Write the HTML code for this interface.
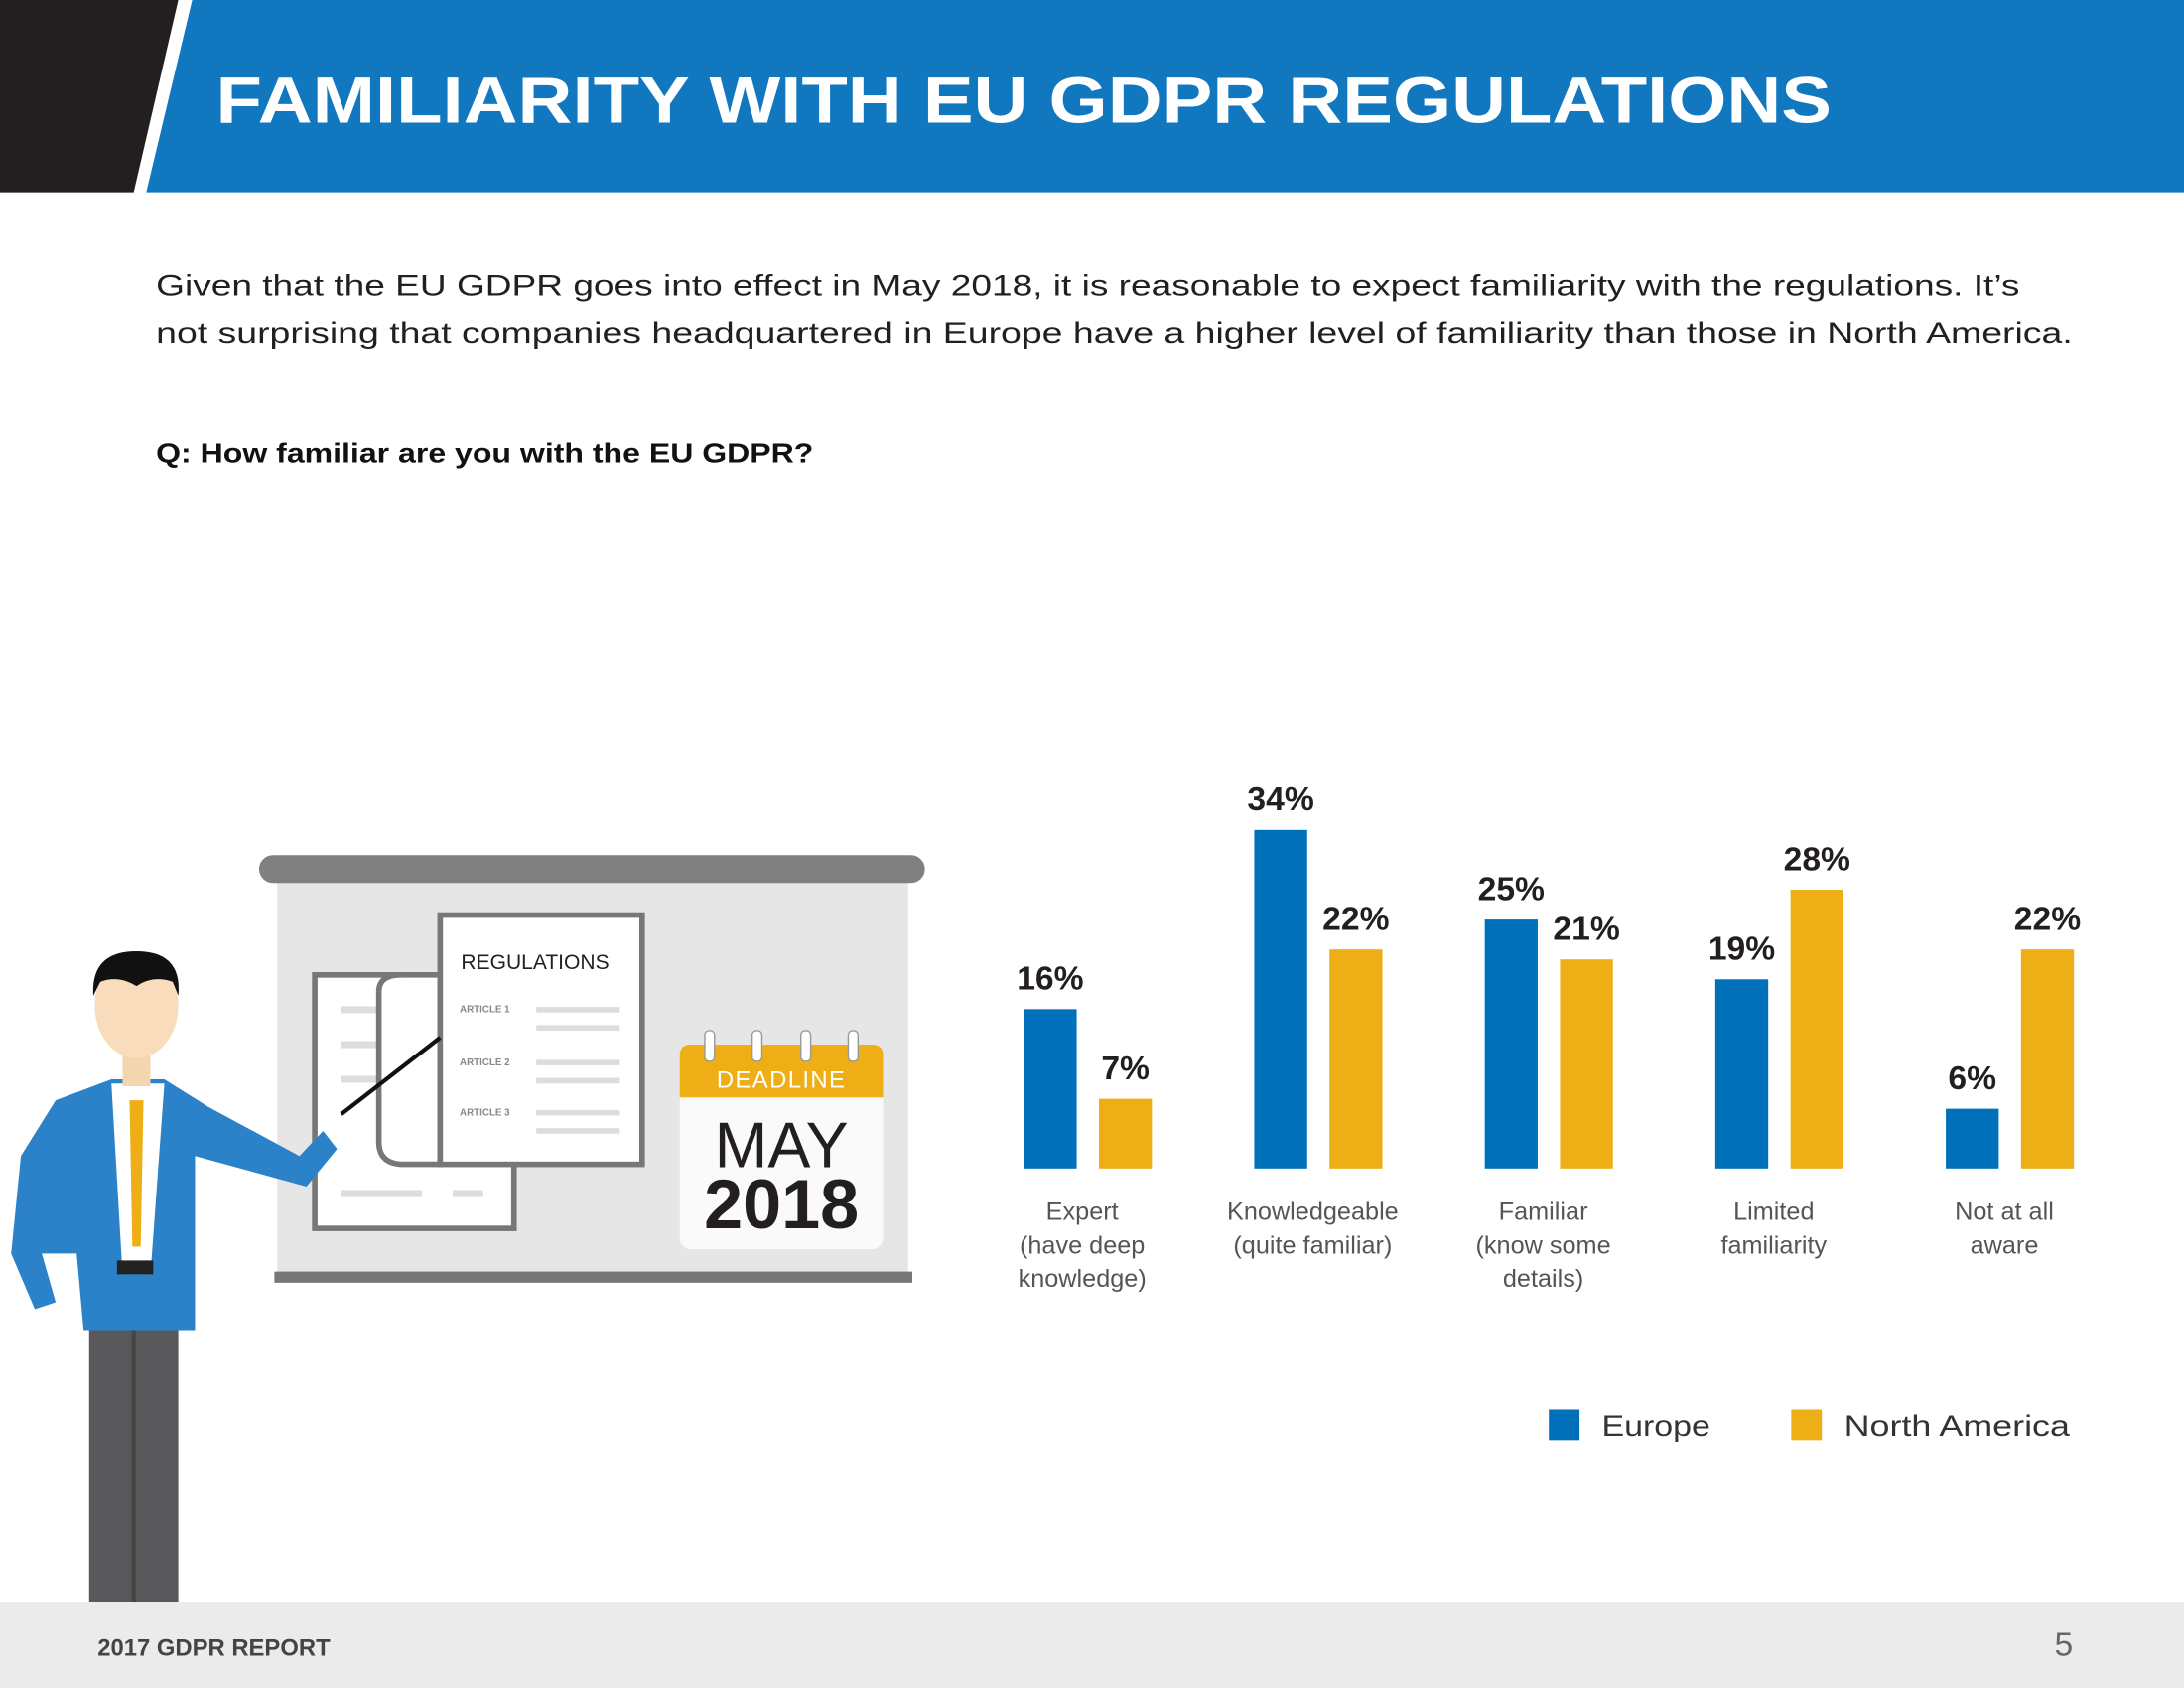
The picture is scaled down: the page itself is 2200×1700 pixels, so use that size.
<!DOCTYPE html>
<html><head><meta charset="utf-8"><style>
html,body{margin:0;padding:0;background:#fff;}
svg{display:block;font-family:"Liberation Sans",sans-serif;}
</style></head><body>
<svg id="page" width="2200" height="1700" viewBox="0 0 1568 1212" preserveAspectRatio="none" xmlns="http://www.w3.org/2000/svg">
<g>
<polygon points="0,0 128,0 96,138 0,138" fill="#231f20"/>
<polygon points="138,0 1568,0 1568,138 105,138" fill="#1177bf"/>
<text x="155" y="88" fill="#fff" font-size="47" font-weight="bold" textLength="1160" lengthAdjust="spacingAndGlyphs">FAMILIARITY WITH EU GDPR REGULATIONS</text>
</g>
<g fill="#231f20" font-size="21">
<text x="112" y="212" textLength="1338" lengthAdjust="spacingAndGlyphs">Given that the EU GDPR goes into effect in May 2018, it is reasonable to expect familiarity with the regulations. It’s</text>
<text x="112" y="246" textLength="1376" lengthAdjust="spacingAndGlyphs">not surprising that companies headquartered in Europe have a higher level of familiarity than those in North America.</text>
</g>
<text x="112" y="332" font-size="20" font-weight="bold" fill="#111" textLength="472" lengthAdjust="spacingAndGlyphs">Q: How familiar are you with the EU GDPR?</text>

<g>
<rect x="199" y="630" width="453" height="285" fill="#e6e6e6"/>
<rect x="186" y="614" width="478" height="20" rx="10" fill="#808080"/>
<rect x="197" y="913" width="458" height="8" fill="#777"/>
<rect x="226" y="700" width="143" height="182" fill="#fff" stroke="#777" stroke-width="4"/>
<g stroke="#ddd" stroke-width="5"><line x1="245" y1="725" x2="300" y2="725"/><line x1="245" y1="750" x2="300" y2="750"/><line x1="245" y1="775" x2="300" y2="775"/><line x1="245" y1="857" x2="303" y2="857"/><line x1="325" y1="857" x2="347" y2="857"/></g>
<path d="M272,712 Q272,700 288,700 L316,700 L316,836 L290,836 Q272,836 272,820 Z" fill="#fff" stroke="#777" stroke-width="4"/>
<rect x="316" y="657" width="145" height="179" fill="#fff" stroke="#777" stroke-width="4"/>
<text x="331" y="696" font-size="15" fill="#231f20">REGULATIONS</text>
<g font-size="7" fill="#888" font-weight="bold"><text x="330" y="727">ARTICLE 1</text><text x="330" y="765">ARTICLE 2</text><text x="330" y="801">ARTICLE 3</text></g>
<g stroke="#ddd" stroke-width="4"><line x1="385" y1="725" x2="445" y2="725"/><line x1="385" y1="738" x2="445" y2="738"/><line x1="385" y1="763" x2="445" y2="763"/><line x1="385" y1="776" x2="445" y2="776"/><line x1="385" y1="799" x2="445" y2="799"/><line x1="385" y1="812" x2="445" y2="812"/></g>
<line x1="245" y1="800" x2="316" y2="745" stroke="#111" stroke-width="3"/>
<rect x="488" y="750" width="146" height="147" rx="8" fill="#fafafa"/>
<path d="M488,758 Q488,750 496,750 L626,750 Q634,750 634,758 L634,788 L488,788 Z" fill="#eeae16"/>
<g fill="#fff" stroke="#999" stroke-width="1"><rect x="506" y="740" width="7" height="22" rx="3"/><rect x="540" y="740" width="7" height="22" rx="3"/><rect x="575" y="740" width="7" height="22" rx="3"/><rect x="609" y="740" width="7" height="22" rx="3"/></g>
<text x="561" y="781" font-size="17" fill="#fff" text-anchor="middle" letter-spacing="1">DEADLINE</text>
<text x="561" y="838" font-size="46" fill="#231f20" text-anchor="middle">MAY</text>
<text x="561" y="882" font-size="50" font-weight="bold" fill="#231f20" text-anchor="middle">2018</text>
<rect x="64" y="910" width="64" height="240" fill="#58585a"/>
<line x1="96" y1="930" x2="96" y2="1150" stroke="#444" stroke-width="3"/>
<path d="M40,790 L80,775 L118,775 L150,795 L215,830 L232,812 L242,825 L220,852 L140,830 L140,955 L60,955 L55,900 L30,900 L40,935 L25,940 L8,900 L15,830 Z" fill="#2b82c9"/>
<polygon points="80,778 118,778 108,915 88,915" fill="#fff"/>
<polygon points="93,790 103,790 101,895 95,895" fill="#eeae16"/>
<rect x="84" y="905" width="26" height="10" fill="#222"/>
<rect x="88" y="755" width="20" height="25" fill="#f5d5b0"/>
<ellipse cx="98" cy="722" rx="30" ry="38" fill="#f8dcbc"/>
<path d="M67,715 Q65,683 98,683 Q131,683 128,715 L124,705 Q110,700 98,708 Q85,700 72,705 Z" fill="#111"/>
</g>

<g id="chart"></g>
<g>
<rect x="1112" y="1012" width="22" height="22" fill="#0070bb"/>
<text x="1150" y="1031" font-size="21" fill="#333" textLength="78" lengthAdjust="spacingAndGlyphs">Europe</text>
<rect x="1286" y="1012" width="22" height="22" fill="#eeae16"/>
<text x="1324" y="1031" font-size="21" fill="#333" textLength="162" lengthAdjust="spacingAndGlyphs">North America</text>
</g>
<g>
<rect x="0" y="1150" width="1568" height="62" fill="#ebebeb"/>
<text x="70" y="1189" font-size="17" font-weight="bold" fill="#444">2017 GDPR REPORT</text>
<text x="1475" y="1189" font-size="24" fill="#666">5</text>
</g>
</svg>
<script>
const categories = [["Expert","(have deep","knowledge)"],["Knowledgeable","(quite familiar)"],["Familiar","(know some","details)"],["Limited","familiarity"],["Not at all","aware"]];
const europe = [16, 34, 25, 19, 6];
const northAmerica = [7, 22, 21, 28, 22];

const NS = "http://www.w3.org/2000/svg";
const chart = document.getElementById("chart");
const baseY = 839, pxPerPct = 7.15, firstX = 754, step = 165.5, barW = 38, gap = 54;
const yScale = v => baseY - v * pxPerPct;
const xScale = i => firstX + i * step;
function mk(tag, attrs){ const e = document.createElementNS(NS, tag); for (const k in attrs) e.setAttribute(k, attrs[k]); chart.appendChild(e); return e; }
categories.forEach((cat, i) => {
  const cx = xScale(i);
  const series = [[europe[i], "#0070bb", cx, "europe"], [northAmerica[i], "#eeae16", cx + gap, "north-america"]];
  series.forEach(([v, col, c, nm]) => {
    const r = mk("rect", {x: c - barW/2, y: yScale(v), width: barW, height: v * pxPerPct, fill: col});
    
    
    const t = mk("text", {x: c, y: yScale(v) - 14, "font-size": 24, "font-weight": "bold", fill: "#231f20", "text-anchor": "middle"});
    t.textContent = v + "%";
    
    
  });
  const lx = cx + gap/2 - 4;
  cat.forEach((line, j) => {
    const t = mk("text", {x: lx, y: 876 + j * 24, "font-size": 18, fill: "#555", "text-anchor": "middle"});
    t.textContent = line;
    
    
  });
});
</script>
</body></html>
